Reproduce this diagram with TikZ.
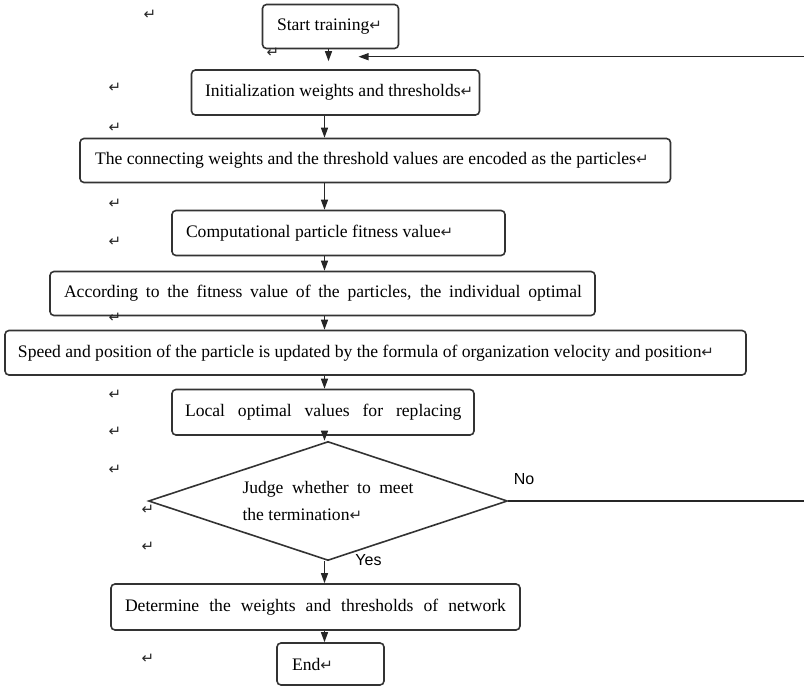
\documentclass[tikz,border=0pt]{standalone}
\usepackage{fontspec}
\setmainfont{Liberation Serif}
\newfontfamily\djv{DejaVu Sans}
\newfontfamily\lsans{Liberation Sans}
\usetikzlibrary{shapes.geometric,arrows.meta}
\newcommand\pmk{{\djv\fontsize{15}{15}\selectfont\color{black!85}↵}}
\newcommand\bxl[3]{\makebox[#1][l]{\hspace*{#2}#3}}
\newcommand\bxs[4]{\makebox[#1][l]{\hspace*{#2}\makebox[#3][s]{#4}}}
\tikzset{
  box/.style={draw=black!80, line width=1.6pt, rounded corners=4pt, inner sep=0pt,
    font=\fontsize{17.6}{21}\selectfont},
  arr/.style={draw=black!85, line width=1.2pt, -{Triangle[length=10pt,width=7pt]}},
  pm/.style={inner sep=0pt},
  yn/.style={inner sep=0pt, font=\lsans\fontsize{16}{16}\selectfont}
}
\begin{document}
\begin{tikzpicture}[x=1pt,y=-1pt]
\useasboundingbox (0,0) rectangle (804,687);
% boxes
\node[box, minimum height=44pt] (start) at (330.5,26.5) {\bxl{136pt}{14.5pt}{Start training\pmk}};
\node[box, minimum height=45pt] (init) at (335.5,92.5) {\bxl{288pt}{13.5pt}{Initialization weights and thresholds\pmk}};
\node[box, minimum height=44pt] (enc) at (375.25,160.5) {\bxl{590.5pt}{15pt}{The connecting weights and the threshold values are encoded as the particles\pmk}};
\node[box, minimum height=45pt] (comp) at (338.5,233) {\bxl{333pt}{14pt}{Computational particle fitness value\pmk}};
\node[box, minimum height=44pt] (acc) at (322.5,293.5) {\bxs{545pt}{14pt}{518pt}{According to the fitness value of the particles, the individual optimal}};
\node[box, minimum height=44.5pt] (speed) at (375.5,352.75) {\bxl{741pt}{13pt}{Speed and position of the particle is updated by the formula of organization velocity and position\pmk}};
\node[box, minimum height=45.5pt] (local) at (323,412.25) {\bxs{302pt}{13pt}{276.5pt}{Local optimal values for replacing}};
\node[draw=black!80, line width=1.6pt, diamond, aspect=3, minimum width=359pt, minimum height=119pt,
  inner sep=0pt, align=left, font=\fontsize{17.6}{27}\selectfont] (judge) at (328,501)
  {\makebox[171pt][s]{Judge whether to meet}\\the termination\pmk};
\node[box, minimum height=46pt] (det) at (315.5,607) {\bxs{409pt}{14pt}{381pt}{Determine the weights and thresholds of network}};
\node[box, minimum height=42pt] (end) at (330.5,664) {\bxl{107pt}{15pt}{End\pmk}};
% columns and loose ends
\coordinate (colA) at (328.5,0);
\coordinate (col) at (324.5,0);
\coordinate (fbR) at (804,56.7);
\coordinate (fbT) at (358.5,56.7);
\coordinate (noR) at (804,501);
% connectors
\draw[arr, shorten >=8pt] (start.south -| colA) -- (init.north -| colA);
\draw[arr] (init.south -| col) -- (enc.north -| col);
\draw[arr] (enc.south -| col) -- (comp.north -| col);
\draw[arr] (comp.south -| col) -- (acc.north -| col);
\draw[arr] (acc.south -| col) -- (speed.north -| col);
\draw[arr] (speed.south -| col) -- (local.north -| col);
\draw[arr] (local.south -| col) -- (judge.north -| col);
\draw[arr] (judge.south -| col) -- (det.north -| col);
\draw[arr] (det.south -| col) -- (end.north -| col);
\draw[arr] (fbR) -- (fbT);
\draw[draw=black!85, line width=1.2pt] (judge.east) -- (noR);
% labels
\node[yn] (no) at (524,479) {No};
\node[yn] (yes) at (368.5,560) {Yes};
% stray paragraph marks
\node[pm] (m1) at (150,15) {\pmk};
\node[pm] (m2) at (273,53) {\pmk};
\node[pm] (m3) at (115,88) {\pmk};
\node[pm] (m4) at (115,128) {\pmk};
\node[pm] (m5) at (115,204) {\pmk};
\node[pm] (m6) at (115,242) {\pmk};
\node[pm] (m7) at (115,318) {\pmk};
\node[pm] (m8) at (115,395) {\pmk};
\node[pm] (m9) at (115,432) {\pmk};
\node[pm] (m10) at (115,470) {\pmk};
\node[pm] (m11) at (148,510) {\pmk};
\node[pm] (m12) at (148,547) {\pmk};
\node[pm] (m13) at (148,659) {\pmk};
\end{tikzpicture}
\end{document}
